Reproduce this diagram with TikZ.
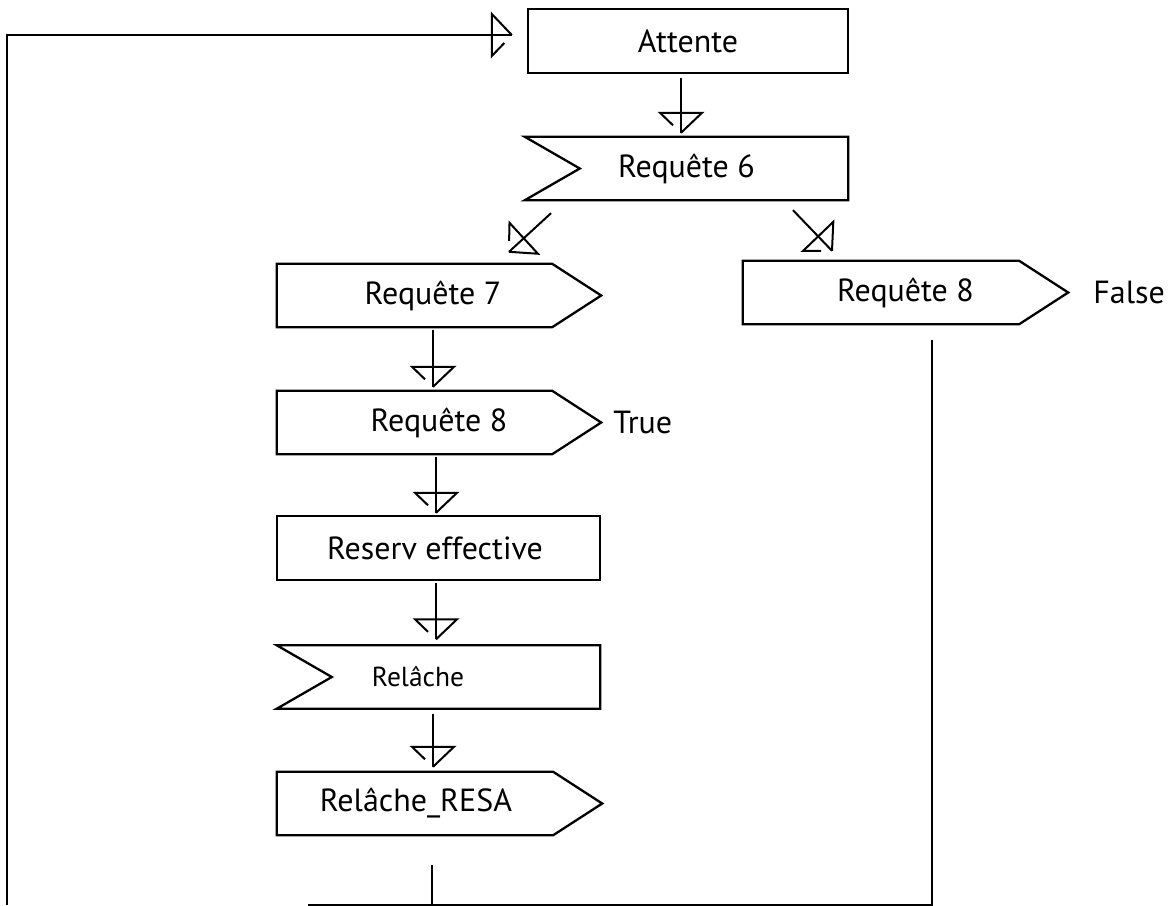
\documentclass[tikz,border=0pt]{standalone}
\usepackage{fontspec}
\setmainfont{PT Sans}

% SDL-style open arrow head: a bar across the line, one full side to the tip
% and a short stub on the other side; the line runs through to the tip.
\pgfdeclarearrow{
  name = sdl,
  setup code = {
    \pgfarrowssettipend{0pt}
    \pgfarrowssetlineend{0pt}
    \pgfarrowssetbackend{-20pt}
    \pgfarrowshullpoint{0pt}{0pt}
    \pgfarrowshullpoint{-20pt}{21pt}
    \pgfarrowshullpoint{-20pt}{-21pt}
  },
  drawing code = {
    \pgfsetdash{}{0pt}
    \pgfsetmiterjoin
    \pgfpathmoveto{\pgfqpoint{-7.5pt}{-8pt}}
    \pgfpathlineto{\pgfqpoint{-20pt}{-21pt}}
    \pgfpathlineto{\pgfqpoint{-20pt}{21pt}}
    \pgfpathlineto{\pgfqpoint{0pt}{0pt}}
    \pgfusepathqstroke
  }
}

\tikzset{
  blk/.style={minimum height=63pt, inner sep=0pt, font=\fontsize{32}{38}\selectfont},
  outline/.style={draw=black, line width=2.3pt, line join=miter},
  flow/.style={line width=2pt, arrows={-sdl}},
  wire/.style={line width=2pt},
  note/.style={anchor=west, inner sep=0pt, font=\fontsize{32}{38}\selectfont},
}

% outlines drawn around the text nodes
\newcommand\sdlsend[1]{\draw[outline] (#1.north west) -- ([xshift=-49pt]#1.north east) -- (#1.east) -- ([xshift=-49pt]#1.south east) -- (#1.south west) -- cycle;}
\newcommand\sdlrecv[1]{\draw[outline] (#1.north west) -- (#1.north east) -- (#1.south east) -- (#1.south west) -- ([xshift=55pt]#1.west) -- cycle;}
\newcommand\sdltask[1]{\draw[outline] (#1.north west) rectangle (#1.south east);}

\begin{document}
\begin{tikzpicture}[x=1pt,y=-1pt]
\useasboundingbox (0,0) rectangle (1169,905);

% blocks
\node[blk, minimum width=320pt] (att)    at (688,41)      {Attente};
\node[blk, minimum width=323pt] (req6)   at (686.5,168.5) {Requête 6};
\node[blk, minimum width=324pt] (req7)   at (439,295.5)   {Requête 7\hspace*{12pt}};
\node[blk, minimum width=324pt] (req8a)  at (439,422.5)   {Requête 8};
\node[blk, minimum width=325pt] (req8b)  at (905.5,292.5) {Requête 8};
\node[blk, minimum width=323pt, minimum height=64pt] (resv) at (438.5,548) {Reserv effective\hspace*{7pt}};
\node[blk, minimum width=323pt, font=\fontsize{27.5}{33}\selectfont] (rel) at (438.5,677) {Relâche\hspace*{41pt}};
\node[blk, minimum width=325pt] (relresa) at (439.5,803.5) {Relâche\_RESA\hspace*{47pt}};

\sdltask{att}
\sdlrecv{req6}
\sdlsend{req7}
\sdlsend{req8a}
\sdlsend{req8b}
\sdltask{resv}
\sdlrecv{rel}
\sdlsend{relresa}

% outcome labels
\node[note] (true)  at ([xshift=12pt]req8a.east) {True};
\node[note] (false) at ([xshift=25pt]req8b.east) {False};

% flow
\draw[flow] ([xshift=-7pt,yshift=-5pt]att.south) -- ([xshift=-5.5pt,yshift=4pt]req6.north);
\draw[flow] ([xshift=-135.5pt,yshift=-13pt]req6.south) -- ([xshift=70pt,yshift=12pt]req7.north);
\draw[flow] ([xshift=106.5pt,yshift=-10pt]req6.south) -- ([xshift=-73.5pt,yshift=10pt]req8b.north);
\draw[flow] ([xshift=-6pt,yshift=-3pt]req7.south) -- ([xshift=-6pt,yshift=4pt]req8a.north);
\draw[flow] ([xshift=-3pt,yshift=-3pt]req8a.south) -- ([xshift=-2.5pt,yshift=3pt]resv.north);
\draw[flow] ([xshift=-2.5pt,yshift=-3pt]resv.south) -- ([xshift=-2.5pt,yshift=6pt]rel.north);
\draw[flow] ([xshift=-5.5pt,yshift=-5pt]rel.south) -- ([xshift=-6.5pt,yshift=5pt]relresa.north);

% return path
\coordinate (botA) at (432,905);
\coordinate (botB) at (308,904.5);
\coordinate (loopB) at (7,905);
\draw[wire] ([xshift=-7.5pt,yshift=-30pt]relresa.south) -- (botA);
\draw[wire] ([xshift=26.5pt,yshift=-16pt]req8b.south) |- (botB);
\draw[flow] (loopB) |- ([xshift=-16pt,yshift=6pt]att.west);
\end{tikzpicture}
\end{document}
